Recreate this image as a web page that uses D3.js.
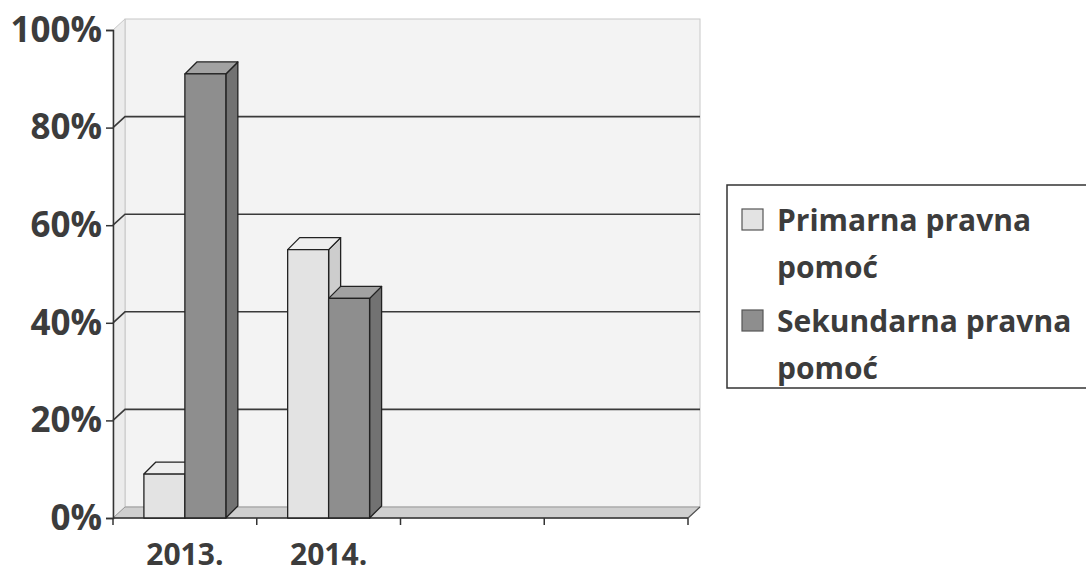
<!DOCTYPE html>
<html lang="en">
<head>
<meta charset="utf-8">
<title>Pravna pomoć</title>
<script src="https://d3js.org/d3.v7.min.js"></script>
<style>
body { margin: 0; background: #fff; }
text { font-family: "Open Sans", sans-serif; font-weight: bold; fill: #3c3c3c; }
</style>
</head>
<body>
<div id="container"></div>
<script>
// data
var categories = ["2013.", "2014.", "", ""];
var series = ["Primarna pravna pomoć", "Sekundarna pravna pomoć"];
var primarna = [0.09, 0.55, null, null];
var sekundarna = [0.91, 0.45, null, null];
var yTicks = [0, 0.2, 0.4, 0.6, 0.8, 1];
var legendLines = [["Primarna pravna", "pomoć"], ["Sekundarna pravna", "pomoć"]];

var w = 1086, h = 573;
var svg = d3.select("#container").append("svg").attr("width", w).attr("height", h);

// front plane (indices as domain, two categories are empty)
var idx = d3.range(categories.length);
var x = d3.scaleBand().domain(idx).range([113, 688]);
var y = d3.scaleLinear().domain([0, 1]).range([518, 30]);
var bw = x.bandwidth();
var x1 = d3.scaleBand().domain(series).range([bw * 0.215, bw * 0.785]);

// depth offsets
var wdx = 12, wdy = -11;   // walls
var bdx = 12, bdy = -12;   // bars

var x0 = x.range()[0], xe = x.range()[1];

// back wall
svg.append("rect")
  .attr("x", x0 + wdx).attr("y", y(1) + wdy)
  .attr("width", xe - x0).attr("height", y(0) - y(1))
  .attr("fill", "#f3f3f3").attr("stroke", "#c8c8c8");

// left wall
svg.append("polygon")
  .attr("points", [[x0, y(1)], [x0 + wdx, y(1) + wdy], [x0 + wdx, y(0) + wdy], [x0, y(0)]].join(" "))
  .attr("fill", "#ececec").attr("stroke", "#c8c8c8");

// floor
svg.append("polygon")
  .attr("points", [[x0, y(0)], [xe, y(0)], [xe + wdx, y(0) + wdy], [x0 + wdx, y(0) + wdy]].join(" "))
  .attr("fill", "#cfcfcf").attr("stroke", "#9a9a9a");

// gridlines
yTicks.filter(function(d) { return d > 0 && d < 1; }).forEach(function(t) {
  svg.append("path")
    .attr("d", "M" + x0 + "," + y(t) + "L" + (x0 + wdx) + "," + (y(t) + wdy) + "L" + (xe + wdx) + "," + (y(t) + wdy))
    .attr("fill", "none").attr("stroke", "#3a3a3a").attr("stroke-width", 1.6);
});

// axes
var yAxis = d3.axisLeft(y).tickValues(yTicks).tickFormat(d3.format(".0%")).tickSize(7).tickPadding(4);
var gy = svg.append("g").attr("transform", "translate(" + x0 + ",0)").call(yAxis);
gy.select(".domain").attr("stroke", "#333").attr("stroke-width", 1.5);
gy.selectAll(".tick line").attr("stroke", "#333").attr("stroke-width", 1.5);
gy.selectAll("text").style("font-size", "35px").attr("fill", "#3c3c3c");

svg.append("line").attr("x1", x0).attr("x2", xe).attr("y1", y(0)).attr("y2", y(0))
  .attr("stroke", "#333").attr("stroke-width", 1.5);
var bounds = idx.map(function(i) { return x(i); }).concat([xe]);
svg.selectAll(".xtick").data(bounds).enter().append("line")
  .attr("x1", function(d) { return d; }).attr("x2", function(d) { return d; })
  .attr("y1", y(0)).attr("y2", y(0) + 7)
  .attr("stroke", "#333").attr("stroke-width", 1.5);
svg.append("line").attr("x1", xe).attr("y1", y(0)).attr("x2", xe + wdx).attr("y2", y(0) + wdy)
  .attr("stroke", "#555").attr("stroke-width", 1.2);

svg.selectAll(".xlab").data(idx).enter().append("text")
  .attr("x", function(i) { return x(i) + bw / 2; })
  .attr("y", 565)
  .attr("text-anchor", "middle")
  .style("font-size", "30px")
  .text(function(i) { return categories[i]; });

// bars
var colors = {
  "Primarna pravna pomoć": { front: "#e3e3e3", top: "#eeeeee", side: "#cdcdcd" },
  "Sekundarna pravna pomoć": { front: "#8e8e8e", top: "#a2a2a2", side: "#727272" }
};
var bars = [];
idx.forEach(function(i) {
  [primarna[i], sekundarna[i]].forEach(function(v, j) {
    if (v != null) bars.push({ i: i, s: series[j], v: v });
  });
});

var g = svg.append("g").attr("stroke", "#222").attr("stroke-width", 1.3).attr("stroke-linejoin", "round");
bars.forEach(function(b) {
  var l = x(b.i) + x1(b.s), r = l + x1.bandwidth();
  var t = y(b.v), bot = y(0);
  var col = colors[b.s];
  g.append("polygon")
    .attr("points", [[r, t], [r + bdx, t + bdy], [r + bdx, bot + bdy], [r, bot]].join(" "))
    .attr("fill", col.side);
  g.append("polygon")
    .attr("points", [[l, t], [l + bdx, t + bdy], [r + bdx, t + bdy], [r, t]].join(" "))
    .attr("fill", col.top);
  g.append("rect")
    .attr("x", l).attr("y", t).attr("width", r - l).attr("height", bot - t)
    .attr("fill", col.front);
});

// legend
var lg = svg.append("g");
lg.append("rect").attr("x", 727).attr("y", 185).attr("width", 420).attr("height", 203)
  .attr("fill", "#fff").attr("stroke", "#333").attr("stroke-width", 1.5);
var rowY = [220, 321];
series.forEach(function(s, i) {
  lg.append("rect").attr("x", 742).attr("y", rowY[i] - 11).attr("width", 21).attr("height", 21)
    .attr("fill", colors[s].front).attr("stroke", "#555").attr("stroke-width", 1.2);
  legendLines[i].forEach(function(line, k) {
    lg.append("text").attr("x", 777).attr("y", rowY[i] + k * 47)
      .attr("dy", "0.35em")
      .style("font-size", "30px")
      .text(line);
  });
});
</script>
</body>
</html>
